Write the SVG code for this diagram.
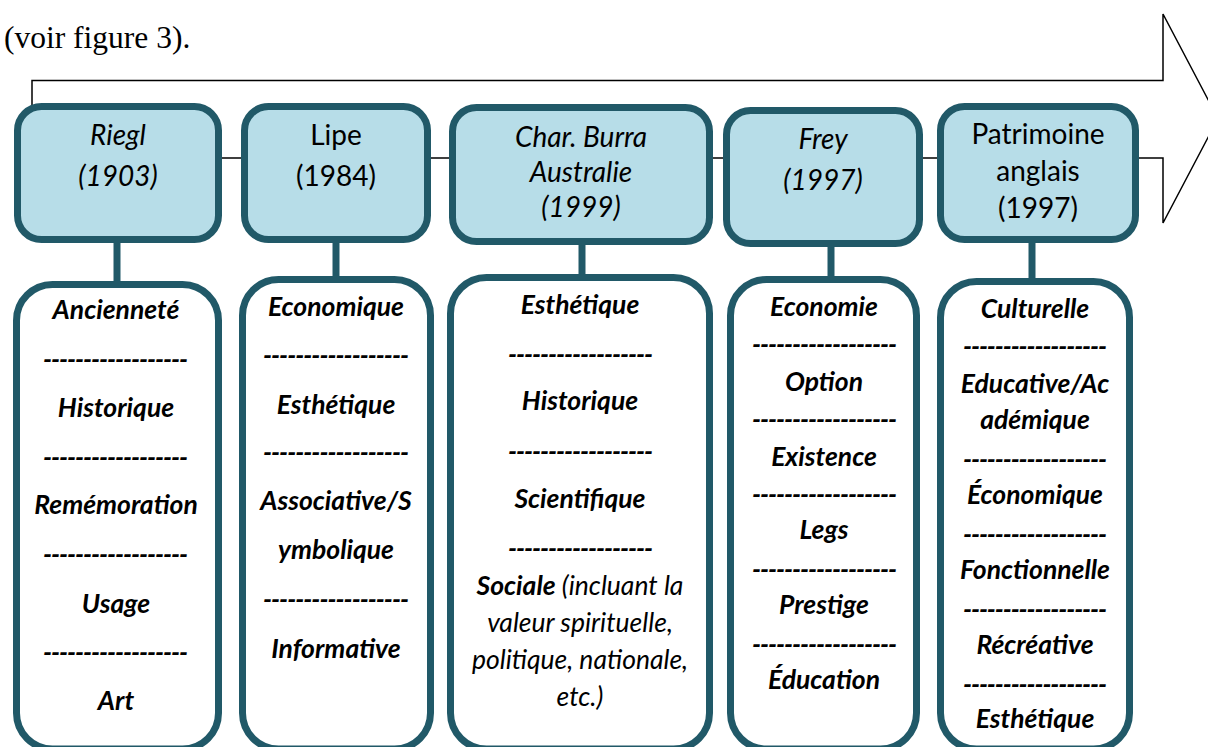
<svg xmlns="http://www.w3.org/2000/svg" width="1208" height="747" viewBox="0 0 1208 747">
<style>
.top{fill:#B7DDE8;stroke:#215968;stroke-width:7}
.bot{fill:#ffffff;stroke:#215968;stroke-width:7}
.stem{stroke:#215968;stroke-width:7;fill:none}
.h{font-family:Lato,"Open Sans",sans-serif;font-size:28px;fill:#000;text-anchor:middle}
.hi{font-style:italic}
.v{font-family:Lato,"Open Sans",sans-serif;font-size:26.5px;font-weight:bold;font-style:italic;fill:#000;text-anchor:middle}
.d{font-family:Lato,"Open Sans",sans-serif;font-size:26px;font-weight:bold;font-style:italic;fill:#000}
.n{font-weight:normal}
</style>
<rect width="1208" height="747" fill="#ffffff"/>
<text x="4" y="48" font-family="Liberation Serif,serif" font-size="31.5" fill="#000">(voir figure 3).</text>
<g id="connectors">
<polygon points="32,158 32,80.5 1163,80.5 1163,14 1218,118.5 1163,223 1163,158" fill="none" stroke="#000" stroke-width="1.5"/>
<line class="stem" x1="117" y1="240" x2="117" y2="285"/>
<line class="stem" x1="336" y1="240" x2="336" y2="280"/>
<line class="stem" x1="582" y1="242" x2="582" y2="278"/>
<line class="stem" x1="831" y1="244" x2="831" y2="280"/>
<line class="stem" x1="1032" y1="240" x2="1032" y2="282"/>
</g>
<g id="riegl">
<rect class="top" x="17.5" y="106.5" width="201" height="133" rx="24"/>
<text class="h hi" x="118" y="145">Riegl</text>
<text class="h hi" x="118" y="186">(1903)</text>
</g>
<g id="lipe">
<rect class="top" x="244.5" y="106.5" width="183" height="133" rx="24"/>
<text class="h" x="336" y="145">Lipe</text>
<text class="h" x="336" y="186">(1984)</text>
</g>
<g id="burra">
<rect class="top" x="452.5" y="107.5" width="257" height="134" rx="24"/>
<text class="h hi" x="581" y="147">Char. Burra</text>
<text class="h hi" x="581" y="182">Australie</text>
<text class="h hi" x="581" y="217">(1999)</text>
</g>
<g id="frey">
<rect class="top" x="726.5" y="110.5" width="193" height="133" rx="24"/>
<text class="h hi" x="823" y="149">Frey</text>
<text class="h hi" x="823" y="190">(1997)</text>
</g>
<g id="patrimoine">
<rect class="top" x="940.5" y="106.5" width="195" height="133" rx="24"/>
<text class="h" x="1038" y="144">Patrimoine</text>
<text class="h" x="1038" y="181">anglais</text>
<text class="h" x="1038" y="218">(1997)</text>
</g>
<g id="riegl-values">
<rect class="bot" x="16.5" y="284.5" width="202" height="464.5" rx="36"/>
<text class="v" x="116" y="319">Ancienneté</text>
<text class="d" x="43" y="369" textLength="145" lengthAdjust="spacing">------------------</text>
<text class="v" x="116" y="417">Historique</text>
<text class="d" x="43" y="467" textLength="145" lengthAdjust="spacing">------------------</text>
<text class="v" x="116" y="514">Remémoration</text>
<text class="d" x="43" y="564" textLength="145" lengthAdjust="spacing">------------------</text>
<text class="v" x="116" y="613">Usage</text>
<text class="d" x="43" y="662" textLength="145" lengthAdjust="spacing">------------------</text>
<text class="v" x="116" y="710">Art</text>
</g>
<g id="lipe-values">
<rect class="bot" x="242.5" y="279.5" width="188" height="469.5" rx="36"/>
<text class="v" x="336" y="316">Economique</text>
<text class="d" x="263" y="365" textLength="146" lengthAdjust="spacing">------------------</text>
<text class="v" x="336" y="414">Esthétique</text>
<text class="d" x="263" y="462" textLength="146" lengthAdjust="spacing">------------------</text>
<text class="v" x="336" y="510">Associative/S</text>
<text class="v" x="336" y="559">ymbolique</text>
<text class="d" x="263" y="609" textLength="146" lengthAdjust="spacing">------------------</text>
<text class="v" x="336" y="658">Informative</text>
</g>
<g id="burra-values">
<rect class="bot" x="450.5" y="277.5" width="259" height="471.5" rx="36"/>
<text class="v" x="580" y="314">Esthétique</text>
<text class="d" x="508" y="364" textLength="145" lengthAdjust="spacing">------------------</text>
<text class="v" x="580" y="410">Historique</text>
<text class="d" x="508" y="461" textLength="145" lengthAdjust="spacing">------------------</text>
<text class="v" x="580" y="508">Scientifique</text>
<text class="d" x="508" y="558" textLength="145" lengthAdjust="spacing">------------------</text>
<text class="v" x="580" y="595">Sociale<tspan class="n"> (incluant la</tspan></text>
<text class="v n" x="580" y="632">valeur spirituelle,</text>
<text class="v n" x="580" y="669">politique, nationale,</text>
<text class="v n" x="580" y="706">etc.)</text>
</g>
<g id="frey-values">
<rect class="bot" x="730.5" y="279.5" width="186" height="469.5" rx="36"/>
<text class="v" x="824" y="316">Economie</text>
<text class="d" x="752" y="354" textLength="145" lengthAdjust="spacing">------------------</text>
<text class="v" x="824" y="391">Option</text>
<text class="d" x="752" y="429" textLength="145" lengthAdjust="spacing">------------------</text>
<text class="v" x="824" y="466">Existence</text>
<text class="d" x="752" y="504" textLength="145" lengthAdjust="spacing">------------------</text>
<text class="v" x="824" y="539">Legs</text>
<text class="d" x="752" y="579" textLength="145" lengthAdjust="spacing">------------------</text>
<text class="v" x="824" y="614">Prestige</text>
<text class="d" x="752" y="654" textLength="145" lengthAdjust="spacing">------------------</text>
<text class="v" x="824" y="689">Éducation</text>
</g>
<g id="patrimoine-values">
<rect class="bot" x="940.5" y="281.5" width="189" height="467.5" rx="36"/>
<text class="v" x="1035" y="318">Culturelle</text>
<text class="d" x="963" y="356" textLength="144" lengthAdjust="spacing">------------------</text>
<text class="v" x="1035" y="393">Educative/Ac</text>
<text class="v" x="1035" y="429">adémique</text>
<text class="d" x="963" y="469" textLength="144" lengthAdjust="spacing">------------------</text>
<text class="v" x="1035" y="504">Économique</text>
<text class="d" x="963" y="544" textLength="144" lengthAdjust="spacing">------------------</text>
<text class="v" x="1035" y="579">Fonctionnelle</text>
<text class="d" x="963" y="619" textLength="144" lengthAdjust="spacing">------------------</text>
<text class="v" x="1035" y="654">Récréative</text>
<text class="d" x="963" y="694" textLength="144" lengthAdjust="spacing">------------------</text>
<text class="v" x="1035" y="728">Esthétique</text>
</g>
</svg>
